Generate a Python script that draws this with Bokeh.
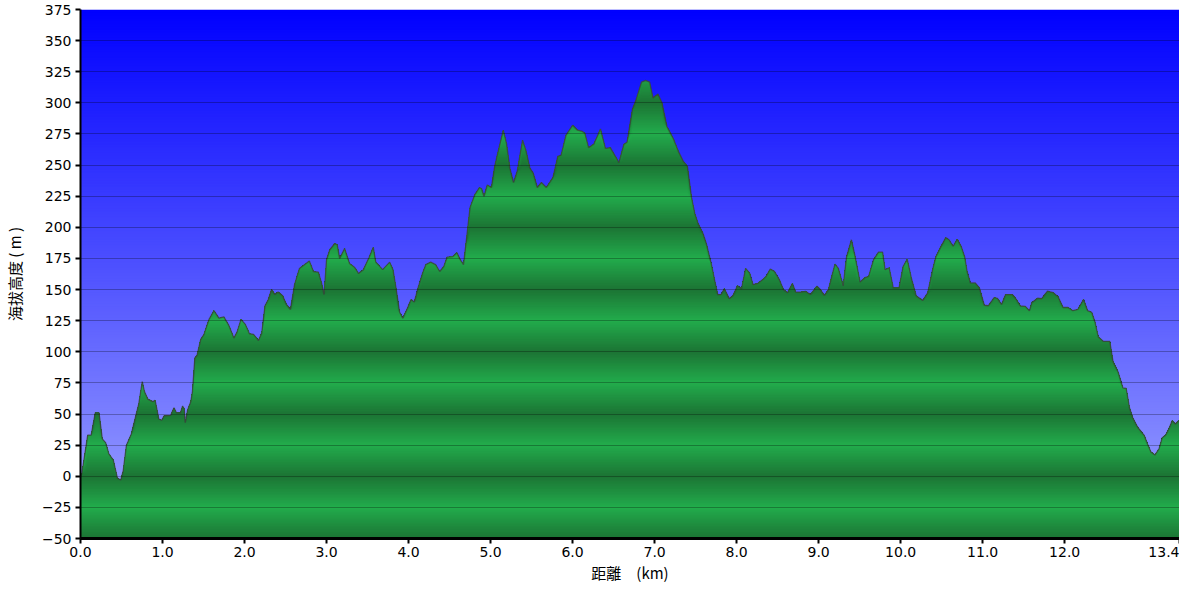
import numpy as np
from bokeh.plotting import figure
from bokeh.models import Range1d, FixedTicker, PrintfTickFormatter
from bokeh.embed import file_html
from bokeh.resources import INLINE

# distance along the route (km) and elevation (m)
dist_km = [
    0.0, 0.016, 0.088, 0.13, 0.18, 0.226, 0.266, 0.306, 0.346, 0.40,
    0.45, 0.49, 0.52, 0.56, 0.62, 0.68, 0.71, 0.753, 0.78, 0.82,
    0.88, 0.91, 0.955, 0.99, 1.02, 1.10, 1.14, 1.17, 1.22, 1.245,
    1.265, 1.277, 1.305, 1.345, 1.365, 1.394, 1.42, 1.466, 1.506, 1.567,
    1.627, 1.688, 1.748, 1.81, 1.87, 1.91, 1.957, 2.01, 2.06, 2.11,
    2.17, 2.21, 2.25, 2.29, 2.33, 2.37, 2.41, 2.465, 2.51, 2.56,
    2.61, 2.67, 2.73, 2.79, 2.84, 2.90, 2.94, 2.97, 3.0, 3.04,
    3.10, 3.13, 3.16, 3.22, 3.28, 3.34, 3.39, 3.45, 3.52, 3.57,
    3.60, 3.685, 3.77, 3.81, 3.85, 3.89, 3.93, 3.98, 4.03, 4.07,
    4.11, 4.17, 4.21, 4.27, 4.33, 4.38, 4.43, 4.47, 4.54, 4.59,
    4.63, 4.67, 4.70, 4.75, 4.81, 4.865, 4.89, 4.92, 4.96, 5.01,
    5.05, 5.10, 5.155, 5.195, 5.235, 5.28, 5.325, 5.39, 5.43, 5.48,
    5.52, 5.57, 5.62, 5.68, 5.76, 5.82, 5.86, 5.92, 6.00, 6.06,
    6.12, 6.15, 6.195, 6.26, 6.34, 6.40, 6.46, 6.565, 6.625, 6.665,
    6.73, 6.77, 6.84, 6.89, 6.94, 6.98, 7.04, 7.09, 7.15, 7.23,
    7.29, 7.35, 7.40, 7.45, 7.49, 7.53, 7.59, 7.63, 7.69, 7.73,
    7.77, 7.81, 7.85, 7.91, 7.955, 8.01, 8.06, 8.11, 8.16, 8.20,
    8.26, 8.32, 8.36, 8.41, 8.46, 8.52, 8.57, 8.62, 8.68, 8.72,
    8.78, 8.84, 8.90, 8.98, 9.02, 9.07, 9.12, 9.16, 9.20, 9.24,
    9.30, 9.34, 9.40, 9.44, 9.505, 9.565, 9.61, 9.67, 9.73, 9.78,
    9.81, 9.86, 9.91, 9.98, 10.03, 10.08, 10.13, 10.19, 10.27, 10.33,
    10.39, 10.43, 10.49, 10.55, 10.59, 10.64, 10.69, 10.74, 10.78, 10.81,
    10.85, 10.91, 10.96, 11.02, 11.07, 11.14, 11.18, 11.23, 11.28, 11.36,
    11.40, 11.46, 11.52, 11.57, 11.60, 11.67, 11.72, 11.79, 11.86, 11.92,
    11.98, 12.04, 12.10, 12.16, 12.23, 12.28, 12.33, 12.37, 12.41, 12.47,
    12.55, 12.59, 12.65, 12.71, 12.75, 12.79, 12.83, 12.89, 12.97, 13.01,
    13.05, 13.10, 13.15, 13.19, 13.23, 13.27, 13.31, 13.35, 13.39, 13.4,
]
elev_m = [
    0, 2, 33, 33, 51, 51, 30, 27, 18, 13,
    -1.5, -3, 4, 25, 34, 50, 58, 76, 68, 62,
    60, 61, 46, 45, 48.6, 49, 55, 51, 51, 56.5,
    54, 43, 53, 60, 68, 95, 97, 110, 114, 126,
    133, 127, 128, 121, 111, 116, 126, 122, 114.5, 114,
    109, 115, 137, 142, 150, 146, 148, 145, 138, 134,
    154, 167, 170, 173, 164.5, 164, 155, 146, 174, 182,
    187, 186, 175, 183, 171, 168, 163, 166, 176, 184,
    172, 166, 172, 166, 150, 132, 127, 134, 142, 140,
    150, 163, 170, 172, 170, 164.5, 168.5, 176, 176.5, 179.6,
    174, 170, 187, 216, 226.5, 232, 231, 225, 234, 232,
    249, 263, 278, 267, 247.5, 236, 245, 270, 262, 247.5,
    243.6, 232, 236, 232, 240, 257, 258, 274, 282, 278,
    277, 275.5, 264, 267, 279, 263.4, 264, 252, 266.6, 268.6,
    295, 301.6, 316.7, 318, 316.7, 304, 307, 300, 281, 271,
    261, 253, 249, 224, 211, 203, 195, 187, 171, 158,
    146, 146, 150.6, 142.7, 145, 153, 150.6, 167, 163, 154,
    155, 158, 160.6, 166.4, 164.6, 158, 150, 147.4, 154.8, 148,
    148, 148.6, 146, 152.7, 150, 145.3, 150, 160.6, 170.4, 167,
    153, 176, 190, 178, 156, 159.5, 160.6, 174, 180, 180,
    166, 167.5, 151.4, 151.4, 168.5, 174.3, 159.3, 144.8, 141.3, 147.4,
    166, 176.4, 184.3, 191.7, 190, 184.8, 190.4, 184.3, 176.4, 164.5,
    155.3, 155.3, 151.4, 137.4, 137, 143.5, 143, 138, 146, 146,
    143, 136.8, 136.5, 133, 139.5, 143, 142.7, 148.7, 147.5, 144.3,
    135.6, 135.6, 133, 134, 142, 133, 131.6, 123.7, 111.8, 108.4,
    108.4, 92, 84, 71, 70.5, 55, 47, 39.4, 32.8, 26,
    19.6, 17, 22, 31, 33, 38, 44.6, 42, 44.6, 44,
]

x_ticks = [0, 1, 2, 3, 4, 5, 6, 7, 8, 9, 10, 11, 12, 13.4]
y_ticks = list(range(-50, 376, 25))

x_min, x_max = 0, 13.4
y_min, y_max = -50, 375


def mix(c1, c2, t):
    r, g, b = [int(round(a + (b_ - a) * t)) for a, b_ in zip(c1, c2)]
    return "#%02x%02x%02x" % (r, g, b)


p = figure(width=1179, height=585, output_backend="svg", toolbar_location=None,
           x_range=Range1d(x_min, x_max), y_range=Range1d(y_min, y_max),
           min_border_left=72, min_border_right=0, min_border_top=9,
           min_border_bottom=40)
p.outline_line_color = None
p.background_fill_color = "white"
p.border_fill_color = "white"

# sky: vertical blue gradient, drawn as overlapping bands (top first)
step = 1.25
sky_tops = np.arange(y_max, y_min, -step)
sky_cols = [mix((0, 0, 255), (160, 166, 255), (y_max - (t - step / 2)) / (y_max - y_min))
            for t in sky_tops]
p.quad(left=x_min, right=x_max, bottom=y_min, top=sky_tops,
       fill_color=sky_cols, line_color=None)

# ground: green fill with banded shading (dark at multiples of 50 m)
dist = np.array(dist_km)
elev = np.array(elev_m)
light = (34, 172, 76)
dark = (28, 116, 52)
for t in np.arange(320, y_min, -step):
    mid = t - step / 2
    d = abs((mid - y_min) % 50 - 25) / 25
    p.varea(x=dist, y1=y_min, y2=np.minimum(elev, t),
            fill_color=mix(light, dark, d), fill_alpha=1)

# profile outline
p.line(dist, elev, line_color="#3c3c3c", line_alpha=0.75, line_width=1.3)

# grid
p.xgrid.visible = False
p.ygrid.ticker = FixedTicker(ticks=y_ticks)
p.ygrid.grid_line_color = "black"
p.ygrid.grid_line_alpha = 0.28
p.ygrid.level = "annotation"

# axes
for ax in (p.xaxis[0], p.yaxis[0]):
    ax.axis_line_color = "black"
    ax.major_tick_line_color = "black"
    ax.major_tick_line_width = 2
    ax.major_tick_in = 0
    ax.major_tick_out = 5
    ax.minor_tick_line_color = None
    ax.major_label_text_font = "DejaVu Sans"
    ax.major_label_text_font_size = "14px"
    ax.major_label_text_color = "black"
    ax.axis_label_text_font = "Noto Sans CJK JP"
    ax.axis_label_text_font_size = "15px"
    ax.axis_label_text_font_style = "normal"
    ax.axis_label_text_color = "black"

p.xaxis.ticker = FixedTicker(ticks=x_ticks)
p.xaxis.formatter = PrintfTickFormatter(format="%.1f")
p.xaxis.axis_line_width = 3
p.xaxis.major_label_standoff = 3
p.xaxis.axis_label = "距離　(km)"
p.xaxis.axis_label_standoff = 2

p.yaxis.ticker = FixedTicker(ticks=y_ticks)
p.yaxis.axis_line_width = 2
p.yaxis.major_label_standoff = 4
p.yaxis.axis_label = "海拔高度 ( m )"
p.yaxis.axis_label_standoff = 14

open("out.html", "w").write(file_html(p, INLINE))
